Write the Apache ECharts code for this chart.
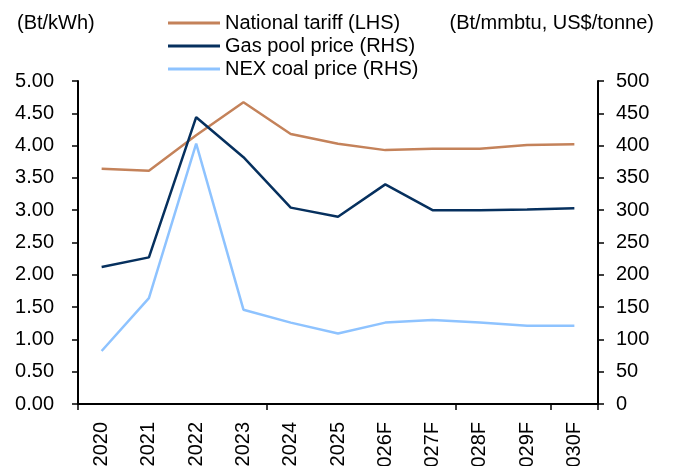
<!DOCTYPE html>
<html lang="en">
<head>
    <meta charset="UTF-8">
    <title>National tariff vs gas pool and coal price</title>
    <script src="https://cdn.jsdelivr.net/npm/echarts@6/dist/echarts.min.js"></script>
    <style>
        html, body { margin: 0; padding: 0; background: #fff; }
        #chart { width: 673px; height: 466px; }
    </style>
</head>
<body>
    <div id="chart"></div>
    <script>
        // 数据
        const years = ['2020', '2021', '2022', '2023', '2024', '2025', '2026F', '2027F', '2028F', '2029F', '2030F'];
        const nationalTariff = [3.64, 3.61, 4.16, 4.67, 4.18, 4.03, 3.93, 3.95, 3.95, 4.01, 4.02];
        const gasPoolPrice = [212, 227, 444, 382, 304, 290, 340, 300, 300, 301, 303];
        const nexCoalPrice = [82, 164, 403, 146, 126, 109, 126, 130, 126, 121, 121];

        const font = 'Liberation Sans, Arial, sans-serif';
        const fs = 20;

        const chart = echarts.init(document.getElementById('chart'));

        const axisCommon = {
            axisLine: { show: true, lineStyle: { color: '#000', width: 2 } },
            axisTick: { show: true, length: 6, lineStyle: { color: '#000', width: 1.5 } },
            splitLine: { show: false },
            axisLabel: { color: '#000', fontFamily: font, fontSize: fs }
        };

        const option = {
            animation: false,
            textStyle: { fontFamily: font },
            title: [
                { text: '(Bt/kWh)', left: 12, top: 8, textStyle: { fontSize: fs, fontWeight: 'normal', color: '#000', fontFamily: font } },
                { text: '(Bt/mmbtu, US$/tonne)', right: 14, top: 8, textStyle: { fontSize: fs, fontWeight: 'normal', color: '#000', fontFamily: font } }
            ],
            legend: {
                orient: 'vertical',
                left: 163,
                top: 8,
                itemWidth: 52,
                itemHeight: 3,
                itemGap: 3,
                icon: 'rect',
                textStyle: { fontSize: fs, color: '#000', fontFamily: font },
                data: ['National tariff (LHS)', 'Gas pool price (RHS)', 'NEX coal price (RHS)']
            },
            grid: { left: 78, right: 75, top: 81, bottom: 62, containLabel: false, outerBoundsMode: 'none' },
            xAxis: {
                type: 'category',
                data: years,
                boundaryGap: true,
                axisLine: { show: true, lineStyle: { color: '#000', width: 2 } },
                axisTick: { show: true, interval: 3, length: 6, lineStyle: { color: '#000', width: 1.5 } },
                axisLabel: { color: '#000', fontFamily: font, fontSize: fs, rotate: 90, interval: 0, margin: 18 }
            },
            yAxis: [
                Object.assign({}, axisCommon, {
                    type: 'value', min: 0, max: 5, interval: 0.5, position: 'left',
                    axisLabel: Object.assign({}, axisCommon.axisLabel, { margin: 24, formatter: v => v.toFixed(2) })
                }),
                Object.assign({}, axisCommon, {
                    type: 'value', min: 0, max: 500, interval: 50, position: 'right',
                    axisLabel: Object.assign({}, axisCommon.axisLabel, { margin: 18 })
                })
            ],
            series: [
                {
                    name: 'National tariff (LHS)', type: 'line', yAxisIndex: 0,
                    data: nationalTariff, symbol: 'none',
                    lineStyle: { color: '#C4825A', width: 2.5 }, itemStyle: { color: '#C4825A' }
                },
                {
                    name: 'Gas pool price (RHS)', type: 'line', yAxisIndex: 1,
                    data: gasPoolPrice, symbol: 'none',
                    lineStyle: { color: '#06305E', width: 2.5 }, itemStyle: { color: '#06305E' }
                },
                {
                    name: 'NEX coal price (RHS)', type: 'line', yAxisIndex: 1,
                    data: nexCoalPrice, symbol: 'none',
                    lineStyle: { color: '#8EC3FF', width: 2.5 }, itemStyle: { color: '#8EC3FF' }
                }
            ]
        };

        chart.setOption(option);
    </script>
</body>
</html>
